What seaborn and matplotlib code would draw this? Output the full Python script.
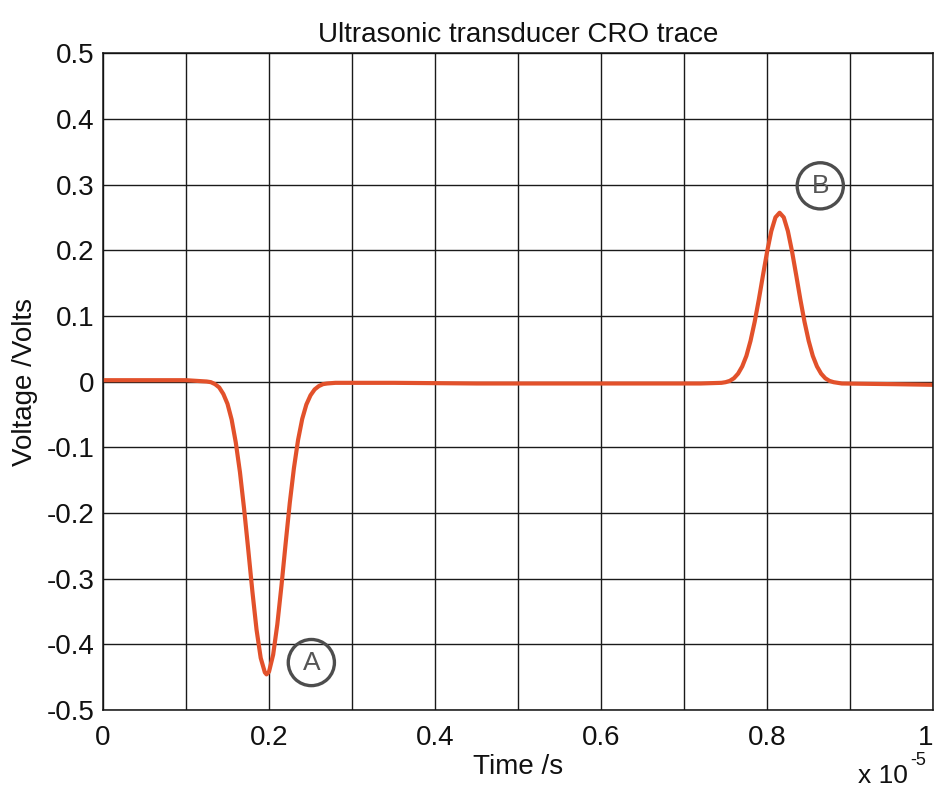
import numpy as np
import pandas as pd
import matplotlib
matplotlib.use("Agg")
import matplotlib.pyplot as plt
import seaborn as sns

# time in units of 1e-5 s, voltage in volts
time_vals = [0.0, 0.05, 0.10, 0.125, 0.13, 0.135, 0.14, 0.145, 0.15, 0.155, 0.16, 0.165,
             0.17, 0.175, 0.18, 0.185, 0.19, 0.195, 0.197, 0.20, 0.205, 0.21, 0.215,
             0.22, 0.225, 0.23, 0.235, 0.24, 0.245, 0.25, 0.255, 0.26, 0.265, 0.27,
             0.28, 0.35, 0.45, 0.55, 0.65, 0.72, 0.745,
             0.75, 0.755, 0.76, 0.765, 0.77, 0.775, 0.78, 0.785, 0.79, 0.795, 0.80,
             0.805, 0.81, 0.815, 0.82, 0.825, 0.83, 0.835, 0.84, 0.845, 0.85, 0.855,
             0.86, 0.865, 0.87, 0.875, 0.88, 0.89, 0.95, 1.0]
volt_vals = [0.002, 0.002, 0.002, 0.0, -0.001, -0.004, -0.009, -0.019, -0.034, -0.058,
             -0.093, -0.138, -0.194, -0.256, -0.320, -0.378, -0.421, -0.443, -0.446,
             -0.442, -0.416, -0.370, -0.311, -0.247, -0.185, -0.132, -0.089, -0.057,
             -0.035, -0.021, -0.012, -0.007, -0.004, -0.003,
             -0.002, -0.002, -0.003, -0.003, -0.003, -0.003, -0.002,
             -0.001, 0.001, 0.005, 0.012, 0.023, 0.039, 0.062, 0.091, 0.125, 0.162,
             0.198, 0.229, 0.250, 0.257, 0.250, 0.229, 0.198, 0.162, 0.125, 0.091,
             0.062, 0.039, 0.023, 0.012, 0.005, 0.001, -0.001, -0.003, -0.004, -0.005]

x_ticks = [0.0, 0.1, 0.2, 0.3, 0.4, 0.5, 0.6, 0.7, 0.8, 0.9, 1.0]
x_labels = ["0", "", "0.2", "", "0.4", "", "0.6", "", "0.8", "", "1"]
y_ticks = [-0.5, -0.4, -0.3, -0.2, -0.1, 0.0, 0.1, 0.2, 0.3, 0.4, 0.5]
y_labels = ["-0.5", "-0.4", "-0.3", "-0.2", "-0.1", "0", "0.1", "0.2", "0.3", "0.4", "0.5"]

# hand-written circled markers on the scan
marker_labels = ["A", "B"]
marker_x = [0.251, 0.864]
marker_y = [-0.428, 0.298]

df = pd.DataFrame({"t": time_vals, "v": volt_vals})

sns.set_theme(style="white")
plt.rcParams["font.family"] = ["Liberation Sans", "DejaVu Sans"]
plt.rcParams["axes.unicode_minus"] = False

fig = plt.figure(figsize=(9.36, 7.94), dpi=100)
ax = fig.add_axes([0.110, 0.106, 0.887, 0.827])

sns.lineplot(data=df, x="t", y="v", ax=ax, color="#e2512b", linewidth=3.0,
             sort=False, estimator=None)

for lab, mx, my in zip(marker_labels, marker_x, marker_y):
    ax.text(mx, my, lab, fontsize=19, color="#555555", ha="center", va="center",
            bbox=dict(boxstyle="circle,pad=0.42", facecolor="none",
                      edgecolor="#4d4d4d", linewidth=2.4))

ax.set_xlim(0, 1)
ax.set_ylim(-0.5, 0.5)
ax.set_xticks(x_ticks)
ax.set_xticklabels(x_labels)
ax.set_yticks(y_ticks)
ax.set_yticklabels(y_labels)
ax.grid(True, color="#1a1a1a", linewidth=1.0)
ax.set_axisbelow(True)
for s in ax.spines.values():
    s.set_color("#111111")
    s.set_linewidth(1.1)
ax.tick_params(axis="both", length=0, labelsize=20, colors="#111111")
ax.tick_params(axis="x", pad=11)
ax.tick_params(axis="y", pad=6)
ax.get_xticklabels()[-1].set_horizontalalignment("right")

ax.set_xlabel("Time /s", fontsize=20, color="#111111", labelpad=2)
ax.set_ylabel("Voltage /Volts", fontsize=20, color="#111111", labelpad=6)
ax.set_title("Ultrasonic transducer CRO trace", fontsize=20, color="#111111", pad=8)
fig.text(0.970, 0.008, "x 10", fontsize=19, color="#111111", ha="right", va="bottom")
fig.text(0.972, 0.032, "-5", fontsize=13, color="#111111", ha="left", va="bottom")

fig.savefig("out.png", dpi=100)
